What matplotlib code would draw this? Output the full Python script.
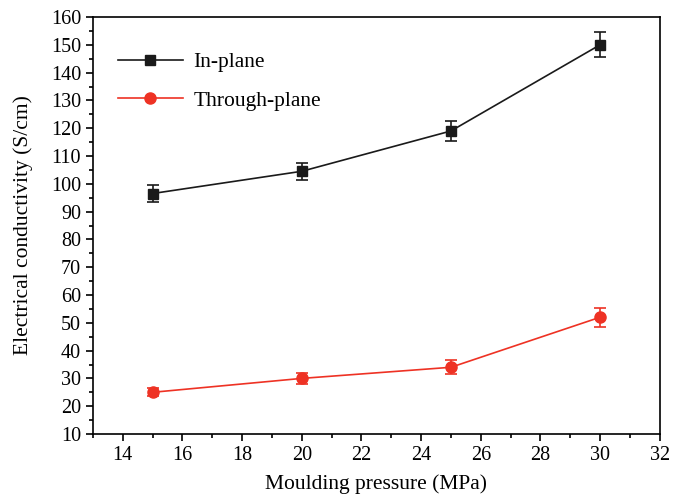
import matplotlib.pyplot as plt
import numpy as np

plt.rcParams['font.family'] = ['Liberation Serif']

pressure = np.array([15, 20, 25, 30])
in_plane = np.array([96.5, 104.5, 119, 150])
in_plane_err = np.array([3, 3, 3.5, 4.5])
through_plane = np.array([25, 30, 34, 52])
through_plane_err = np.array([1.5, 2, 2.5, 3.5])

fig = plt.figure(figsize=(6.83, 5.0), dpi=100)
ax = fig.add_axes([0.136, 0.132, 0.830, 0.834])

ax.errorbar(pressure, in_plane, yerr=in_plane_err, color="#1a1a1a", marker="s",
            markersize=7, linewidth=1.2, capsize=4, elinewidth=1.2, capthick=1.2,
            label="In-plane")
ax.errorbar(pressure, through_plane, yerr=through_plane_err, color="#ee3224", marker="o",
            markersize=8, linewidth=1.2, capsize=4, elinewidth=1.2, capthick=1.2,
            label="Through-plane")

ax.set_xlim(13, 32)
ax.set_ylim(10, 160)
ax.set_xticks(np.arange(14, 33, 2))
ax.set_xticks(np.arange(13, 32, 1), minor=True)
ax.set_yticks(np.arange(10, 161, 10))
ax.set_yticks(np.arange(15, 160, 10), minor=True)
ax.tick_params(axis="both", which="major", direction="out", length=5, width=1.2, labelsize=14.5)
ax.tick_params(axis="both", which="minor", direction="out", length=3, width=1.2)
for s in ax.spines.values():
    s.set_linewidth(1.2)

ax.set_xlabel("Moulding pressure (MPa)", fontsize=15.5, labelpad=7)
ax.set_ylabel("Electrical conductivity (S/cm)", fontsize=15.5, labelpad=13)

handles, labels = ax.get_legend_handles_labels()
handles = [h[0] for h in handles]
ax.legend(handles, labels, loc="upper left", frameon=False, fontsize=15.5,
          handlelength=3.0, handletextpad=0.5, bbox_to_anchor=(0.01, 0.962), labelspacing=0.85)

fig.savefig("out.png", dpi=100)
